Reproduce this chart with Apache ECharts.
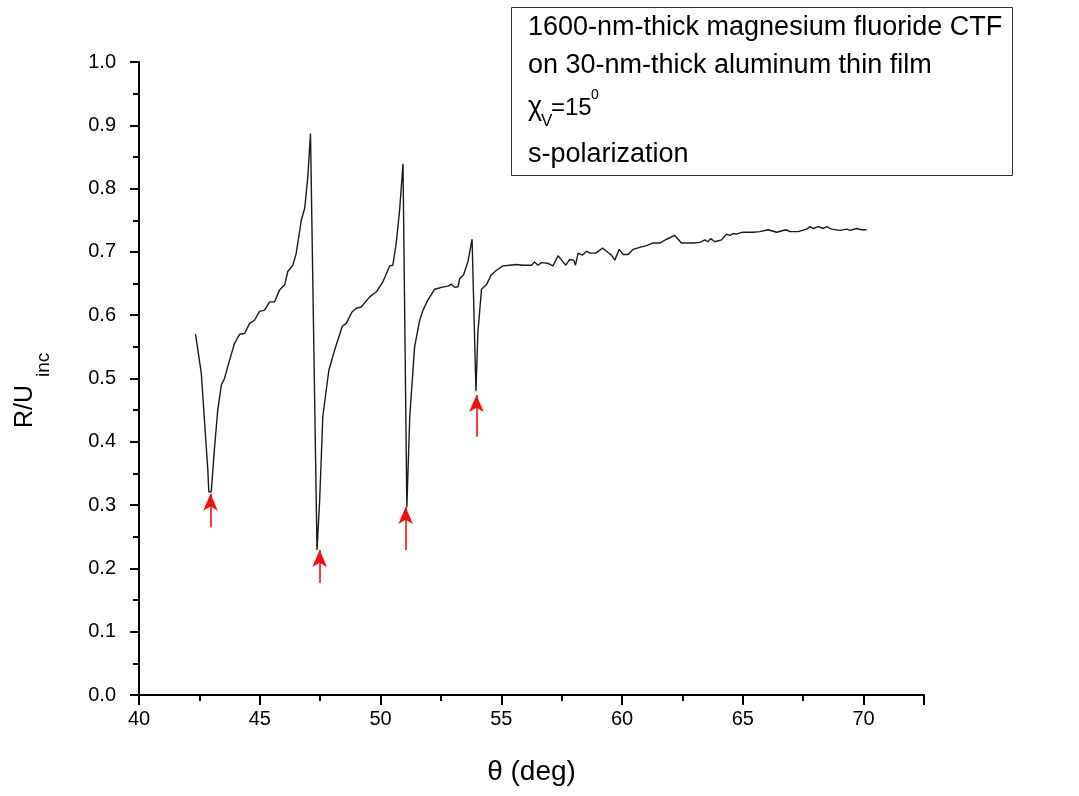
<!DOCTYPE html>
<html>
<head>
<meta charset="utf-8">
<script src="https://cdn.jsdelivr.net/npm/echarts@6/dist/echarts.min.js"></script>
<style>html,body{margin:0;padding:0;background:#fff;}#chart{width:1079px;height:796px;}</style>
</head>
<body>
<div id="chart"></div>
<script>
// incidence angle θ (deg)
const thetaVals = [42.34,42.58,42.71,42.85,42.89,42.99,43.13,43.26,43.41,43.54,43.75,43.96,44.17,44.37,44.58,44.78,44.99,45.20,45.41,45.61,45.82,46.03,46.16,46.37,46.51,46.72,46.86,46.99,47.10,
  47.37,47.48,47.61,47.86,48.10,48.42,48.58,48.82,49.00,49.20,49.55,49.83,50.10,50.38,50.51,50.65,50.79,50.93,
  51.09,51.21,51.41,51.62,51.76,51.96,52.24,52.52,52.79,52.93,53.07,53.21,53.28,53.44,53.62,53.79,
  53.95,54.03,54.18,54.38,54.59,54.80,55.07,55.35,55.63,55.90,56.25,56.38,56.52,56.66,56.93,57.14,57.35,57.50,57.67,57.83,58.00,58.07,58.18,58.36,58.53,58.69,58.91,59.19,59.42,59.56,59.70,59.88,60.04,60.25,60.46,60.80,61.01,61.26,61.56,61.84,62.18,62.46,62.94,63.22,63.43,63.55,63.67,63.84,64.12,64.32,64.46,64.60,64.74,64.88,65.01,65.43,65.70,66.05,66.40,66.78,66.95,67.29,67.64,67.78,67.91,68.12,68.33,68.47,68.67,69.02,69.30,69.44,69.71,69.92,70.12];
// normalized reflectance R/U_inc
const rVals = [0.570,0.508,0.434,0.355,0.321,0.321,0.392,0.450,0.490,0.500,0.529,0.556,0.570,0.571,0.587,0.592,0.606,0.608,0.621,0.621,0.640,0.648,0.669,0.679,0.698,0.750,0.769,0.819,0.887,
  0.229,0.308,0.440,0.513,0.545,0.583,0.587,0.605,0.611,0.613,0.629,0.637,0.653,0.678,0.679,0.714,0.766,0.839,
  0.297,0.440,0.550,0.592,0.608,0.624,0.641,0.644,0.646,0.649,0.644,0.645,0.658,0.664,0.685,0.720,
  0.480,0.572,0.641,0.648,0.664,0.671,0.678,0.679,0.680,0.679,0.679,0.684,0.679,0.683,0.682,0.678,0.694,0.687,0.679,0.688,0.687,0.679,0.698,0.695,0.701,0.698,0.698,0.706,0.699,0.695,0.687,0.704,0.696,0.696,0.704,0.708,0.710,0.714,0.714,0.720,0.726,0.714,0.714,0.715,0.719,0.716,0.721,0.716,0.719,0.728,0.726,0.729,0.728,0.730,0.731,0.731,0.732,0.735,0.731,0.735,0.732,0.732,0.736,0.740,0.737,0.740,0.737,0.740,0.736,0.734,0.736,0.734,0.737,0.735,0.735];
// red arrows marking the reflectance dips
const arrowTheta = [42.96, 47.48, 51.04, 53.97];
const arrowTip   = [0.318, 0.229, 0.297, 0.474];
const arrowBase  = [0.265, 0.177, 0.229, 0.408];
// text
const xName = 'θ (deg)';
const yNameMain = 'R/U';
const yNameSub = 'inc';
const noteLine1 = '1600-nm-thick magnesium fluoride CTF';
const noteLine2 = 'on 30-nm-thick aluminum thin film';
const noteLine4 = 's-polarization';

const FONT = '"Liberation Sans", Arial, sans-serif';
const seriesData = thetaVals.map((t, i) => [t, rVals[i]]);
const arrowData = arrowTheta.map((t, i) => [{coord: [t, arrowBase[i]]}, {coord: [t, arrowTip[i]]}]);

const chart = echarts.init(document.getElementById('chart'), null, {renderer: 'canvas'});
chart.setOption({
  backgroundColor: '#fff',
  animation: false,
  grid: {left: 139, right: 155, top: 62, bottom: 101, containLabel: false, outerBoundsMode: 'none'},
  xAxis: {
    type: 'value', min: 40, max: 72.5, interval: 5,
    name: xName, nameLocation: 'middle', nameGap: 63,
    nameTextStyle: {fontFamily: FONT, fontSize: 28, color: '#000'},
    axisLine: {show: true, onZero: false, lineStyle: {color: '#000', width: 2}},
    axisTick: {show: true, inside: false, length: 10, lineStyle: {color: '#000', width: 2}},
    minorTick: {show: true, splitNumber: 2, length: 6, lineStyle: {color: '#000', width: 2}},
    axisLabel: {fontFamily: FONT, fontSize: 20, color: '#000', margin: 14,
      formatter: v => (Math.abs(v % 5) < 1e-9 ? String(v) : '')},
    splitLine: {show: false}
  },
  yAxis: {
    type: 'value', min: 0, max: 1, interval: 0.1,
    axisLine: {show: true, onZero: false, lineStyle: {color: '#000', width: 2}},
    axisTick: {show: true, inside: false, length: 9, lineStyle: {color: '#000', width: 2}},
    minorTick: {show: true, splitNumber: 2, length: 6, lineStyle: {color: '#000', width: 2}},
    axisLabel: {fontFamily: FONT, fontSize: 20, color: '#000', margin: 23, formatter: v => v.toFixed(1)},
    splitLine: {show: false}
  },
  series: [{
    type: 'line', data: seriesData, showSymbol: false, symbol: 'none', smooth: false,
    lineStyle: {color: '#1a1a1a', width: 1.4},
    markLine: {
      silent: true, animation: false,
      symbol: ['none', 'arrow'], symbolSize: [11, 17], symbolOffset: [0, 0],
      label: {show: false},
      lineStyle: {color: '#f01010', width: 1.6, type: 'solid'},
      emphasis: {disabled: true},
      data: arrowData
    }
  }],
  graphic: [
    {type: 'group', x: 13, y: 428, rotation: Math.PI / 2, children: [
      {type: 'text', x: 0, y: 0, style: {text: yNameMain, font: '25px ' + FONT, fill: '#000'}},
      {type: 'text', x: 51, y: 21, style: {text: yNameSub, font: '19px ' + FONT, fill: '#000'}}
    ]},
    {type: 'rect', shape: {x: 511.5, y: 7.5, width: 501, height: 168}, style: {fill: '#fff', stroke: '#333', lineWidth: 1}, z: 10},
    {type: 'text', x: 528, y: 14, z: 11, style: {text: noteLine1, font: '27px ' + FONT, fill: '#000'}},
    {type: 'text', x: 528, y: 52, z: 11, style: {text: noteLine2, font: '27px ' + FONT, fill: '#000'}},
    {type: 'text', x: 528, y: 94, z: 11, style: {text: 'χ', font: '27px ' + FONT, fill: '#000'}},
    {type: 'text', x: 541, y: 113, z: 11, style: {text: 'V', font: '17px ' + FONT, fill: '#000'}},
    {type: 'text', x: 551, y: 96, z: 11, style: {text: '=15', font: '24px ' + FONT, fill: '#000'}},
    {type: 'text', x: 591, y: 88, z: 11, style: {text: '0', font: '14px ' + FONT, fill: '#000'}},
    {type: 'text', x: 528, y: 141, z: 11, style: {text: noteLine4, font: '27px ' + FONT, fill: '#000'}}
  ]
});
</script>
</body>
</html>
